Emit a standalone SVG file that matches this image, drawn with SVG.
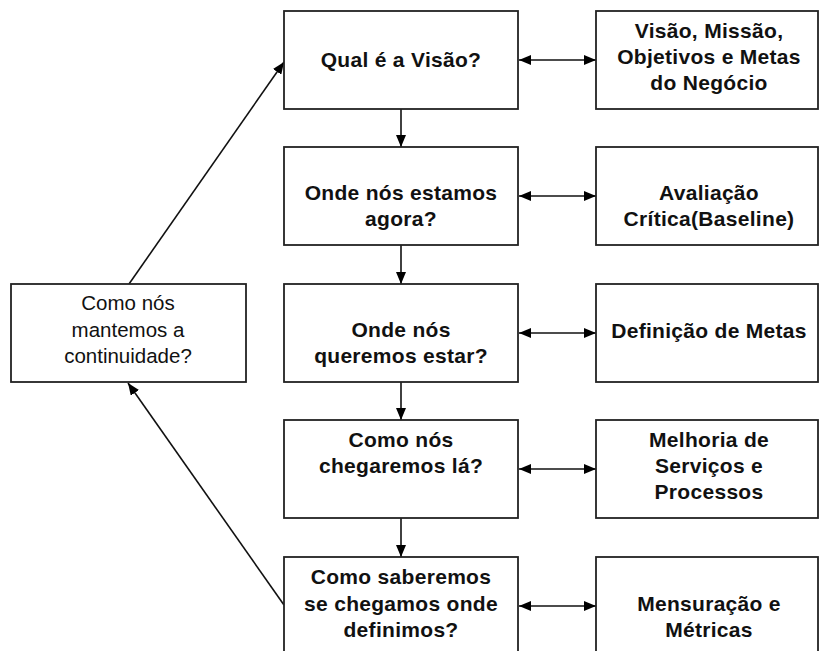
<svg xmlns="http://www.w3.org/2000/svg" width="820" height="651" viewBox="0 0 820 651">
<defs>
<marker id="ah" viewBox="0 0 12 10" refX="12" refY="5" markerWidth="12" markerHeight="10" markerUnits="userSpaceOnUse" orient="auto-start-reverse">
<path d="M0,0 L12,5 L0,10 z" fill="#000"/>
</marker>
<style>
rect{fill:#fff;stroke:#222;stroke-width:1.8}
text{font-family:"Liberation Sans",Arial,sans-serif;font-size:20.5px;fill:#111;text-anchor:middle}
.b{font-weight:bold;font-size:21px;letter-spacing:0.3px}
.c line{stroke:#111;stroke-width:1.6}
</style>
</defs>
<rect x="0" y="0" width="820" height="651" style="fill:#fff;stroke:none"/>
<g class="c" id="connectors">
<line x1="401" y1="109" x2="401" y2="147" marker-end="url(#ah)"/>
<line x1="401" y1="245" x2="401" y2="284" marker-end="url(#ah)"/>
<line x1="401" y1="382" x2="401" y2="420" marker-end="url(#ah)"/>
<line x1="401" y1="518" x2="401" y2="557" marker-end="url(#ah)"/>
<line x1="519" y1="60" x2="596" y2="60" marker-start="url(#ah)" marker-end="url(#ah)"/>
<line x1="519" y1="196" x2="596" y2="196" marker-start="url(#ah)" marker-end="url(#ah)"/>
<line x1="519" y1="333" x2="596" y2="333" marker-start="url(#ah)" marker-end="url(#ah)"/>
<line x1="519" y1="469" x2="596" y2="469" marker-start="url(#ah)" marker-end="url(#ah)"/>
<line x1="519" y1="606" x2="596" y2="606" marker-start="url(#ah)" marker-end="url(#ah)"/>
<line x1="129" y1="284" x2="284" y2="62" marker-end="url(#ah)"/>
<line x1="284" y1="605" x2="128" y2="383" marker-end="url(#ah)"/>
</g>
<g id="n1"><rect x="284" y="11" width="234" height="98"/><text class="b" x="401" y="67">Qual é a Visão?</text></g>
<g id="n2"><rect x="284" y="147" width="234" height="98"/><text class="b" x="401" y="200">Onde nós estamos</text><text class="b" x="401" y="226">agora?</text></g>
<g id="n3"><rect x="284" y="284" width="234" height="98"/><text class="b" x="401" y="337">Onde nós</text><text class="b" x="401" y="363">queremos estar?</text></g>
<g id="n4"><rect x="284" y="420" width="234" height="98"/><text class="b" x="401" y="447">Como nós</text><text class="b" x="401" y="473">chegaremos lá?</text></g>
<g id="n5"><rect x="284" y="557" width="234" height="100"/><text class="b" x="401" y="584">Como saberemos</text><text class="b" x="401" y="611">se chegamos onde</text><text class="b" x="401" y="637">definimos?</text></g>
<g id="r1"><rect x="596" y="11" width="222" height="98"/><text class="b" x="709" y="38">Visão, Missão,</text><text class="b" x="709" y="64">Objetivos e Metas</text><text class="b" x="709" y="90">do Negócio</text></g>
<g id="r2"><rect x="596" y="147" width="222" height="98"/><text class="b" x="709" y="200">Avaliação</text><text class="b" x="709" y="226">Crítica(Baseline)</text></g>
<g id="r3"><rect x="596" y="284" width="222" height="98"/><text class="b" x="709" y="338">Definição de Metas</text></g>
<g id="r4"><rect x="596" y="420" width="222" height="98"/><text class="b" x="709" y="447">Melhoria de</text><text class="b" x="709" y="473">Serviços e</text><text class="b" x="709" y="499">Processos</text></g>
<g id="r5"><rect x="596" y="557" width="222" height="100"/><text class="b" x="709" y="611">Mensuração e</text><text class="b" x="709" y="637">Métricas</text></g>
<g id="l1"><rect x="11" y="284" width="235" height="98"/><text x="128" y="310">Como nós</text><text x="128" y="337">mantemos a</text><text x="128" y="363">continuidade?</text></g>
</svg>
